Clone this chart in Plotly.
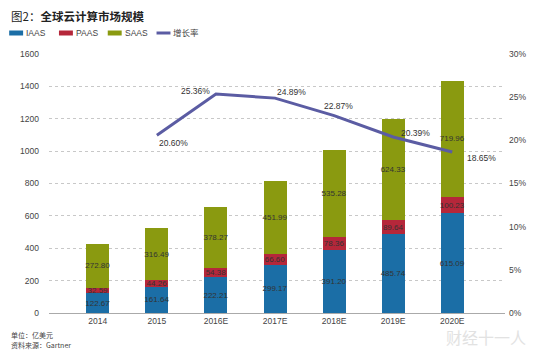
import plotly.graph_objects as go

categories = ["2014", "2015", "2016E", "2017E", "2018E", "2019E", "2020E"]
iaas = [122.67, 161.64, 222.21, 299.17, 391.20, 485.74, 615.09]
paas = [32.59, 44.26, 54.38, 66.60, 78.36, 89.64, 100.23]
saas = [272.80, 316.49, 378.27, 451.99, 535.28, 624.33, 719.96]
growth_cats = ["2015", "2016E", "2017E", "2018E", "2019E", "2020E"]
growth = [0.2060, 0.2536, 0.2489, 0.2287, 0.2039, 0.1865]
growth_labels = ["20.60%", "25.36%", "24.89%", "22.87%", "20.39%", "18.65%"]
y_ticks = [0, 200, 400, 600, 800, 1000, 1200, 1400, 1600]
y2_ticks = [0, 0.05, 0.10, 0.15, 0.20, 0.25, 0.30]
y2_ticklabels = ["0%", "5%", "10%", "15%", "20%", "25%", "30%"]

FONT = "Liberation Sans, Arial, Noto Sans CJK SC, sans-serif"
CJK = "Noto Sans CJK SC, sans-serif"
txt_font = dict(family=FONT, size=8, color="#333333")

# page body has an 8px margin; figure is sized to the visible area
OFF = 8
W, H = 550 - OFF, 356 - OFF
# plot area in reference-window pixels: x 47..505, y 54..313
L, R, T, B = 47 - OFF, 505 - OFF, 54 - OFF, 313 - OFF
PW, PH = R - L, B - T
def px(x):
    return (x - OFF - L) / PW
def py(y):
    return (B - (y - OFF)) / PH

series = [("IAAS", iaas, "#1b6ea6"), ("PAAS", paas, "#b5273a"), ("SAAS", saas, "#8a9a10")]
line_color = "#5b5ca3"

fig = go.Figure()
for name, vals, col in series:
    fig.add_trace(go.Bar(
        x=categories, y=vals, name=name, marker=dict(color=col, line=dict(width=0)),
        text=[f"{v:.2f}" for v in vals], textposition="inside", insidetextanchor="middle",
        textangle=0, constraintext="none", textfont=txt_font, hoverinfo="skip",
    ))

fig.add_trace(go.Scatter(
    x=growth_cats, y=growth, name="增长率", yaxis="y2", mode="lines",
    line=dict(color=line_color, width=3), hoverinfo="skip",
))

shifts = [(17, -8), (-20, 3), (16, 6), (4, 10), (22, 4), (29, -6)]
for c, g, lab, (dx, dy) in zip(growth_cats, growth, growth_labels, shifts):
    fig.add_annotation(x=categories.index(c), y=g, xref="x", yref="y2", text=lab, showarrow=False,
                       xshift=dx, yshift=dy, font=dict(family=FONT, size=8.5, color="#333333"))

# title
fig.add_annotation(xref="paper", yref="paper", x=px(7), y=py(16.5), xanchor="left", yanchor="middle",
                   text="图2：<b>全球云计算市场规模</b>", showarrow=False,
                   font=dict(family=CJK, size=11.5, color="#222222"))

# manual legend
legend_items = [("IAAS", "#1b6ea6", 7, "bar"), ("PAAS", "#b5273a", 57, "bar"),
                ("SAAS", "#8a9a10", 106, "bar"), ("增长率", line_color, 155, "line")]
for lab, col, x0, kind in legend_items:
    if kind == "bar":
        fig.add_shape(type="rect", xref="paper", yref="paper", x0=px(x0), x1=px(x0 + 14),
                      y0=py(35.5), y1=py(30.5), fillcolor=col, line=dict(width=0))
    else:
        fig.add_shape(type="line", xref="paper", yref="paper", x0=px(x0), x1=px(x0 + 14),
                      y0=py(33), y1=py(33), line=dict(color=col, width=3))
    fig.add_annotation(xref="paper", yref="paper", x=px(x0 + 15), y=py(33), xanchor="left",
                       yanchor="middle", text=lab, showarrow=False,
                       font=dict(family=FONT, size=8.5, color="#444444"))

fig.add_annotation(xref="paper", yref="paper", x=px(7), y=py(335), xanchor="left", yanchor="middle",
                   text="单位：亿美元", showarrow=False, font=dict(family=CJK, size=7, color="#444444"))
fig.add_annotation(xref="paper", yref="paper", x=px(7), y=py(345), xanchor="left", yanchor="middle",
                   text="资料来源：Gartner", showarrow=False, font=dict(family=CJK, size=7, color="#444444"))
fig.add_annotation(xref="paper", yref="paper", x=px(486), y=py(337), xanchor="center", yanchor="middle",
                   text="财经十一人", showarrow=False, font=dict(family=CJK, size=16, color="#e2e2e2"))

fig.update_layout(
    width=W, height=H,
    margin=dict(l=L, r=W - R, t=T, b=H - B),
    paper_bgcolor="white", plot_bgcolor="white",
    barmode="stack", bargap=0.61,
    font=dict(family=FONT, size=8.5, color="#444444"),
    showlegend=False,
    xaxis=dict(type="category", range=[-0.826, 6.893], showgrid=False, showline=True,
               linecolor="#aaaaaa", linewidth=1, ticks="",
               tickfont=dict(family=FONT, size=8.5, color="#444444"), fixedrange=True),
    yaxis=dict(range=[0, 1600], tickvals=y_ticks, showgrid=True, gridcolor="#c8c8c8", griddash="dot",
               gridwidth=1, zeroline=False, ticklabelstandoff=9,
               tickfont=dict(family=FONT, size=8.5, color="#444444")),
    yaxis2=dict(range=[0, 0.30], overlaying="y", side="right", tickvals=y2_ticks, ticktext=y2_ticklabels,
                showgrid=False, zeroline=False, ticklabelstandoff=3,
                tickfont=dict(family=FONT, size=8.5, color="#444444")),
)

fig.write_html("out.html")
